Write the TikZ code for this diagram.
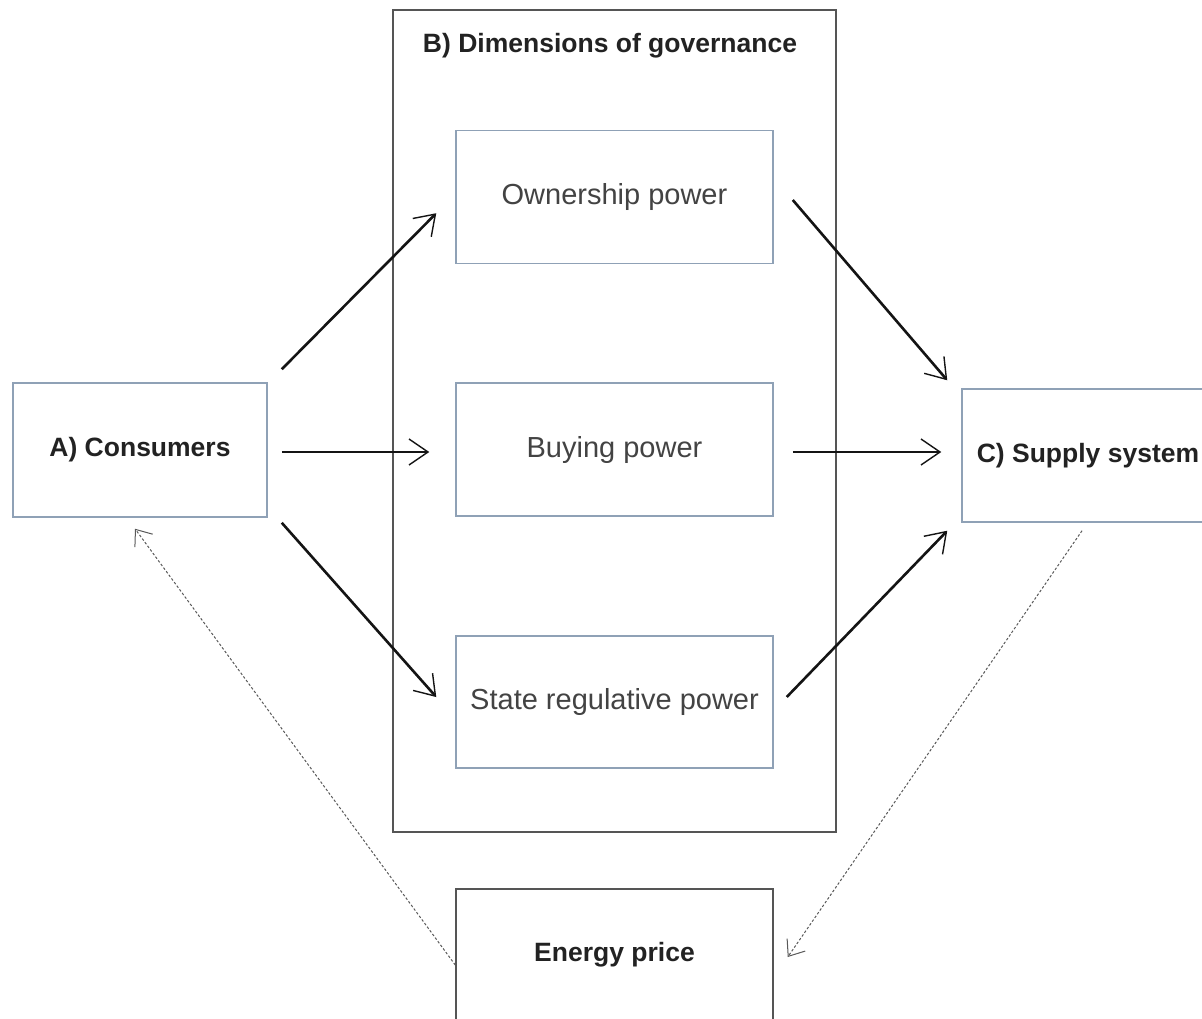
\documentclass[tikz,border=0pt]{standalone}
\usepackage{fontspec}
\setmainfont{Liberation Sans}
\usetikzlibrary{arrows.meta}
\definecolor{boxblue}{HTML}{8FA1B6}
\definecolor{boxdark}{HTML}{555555}
\definecolor{txt}{HTML}{222222}
\tikzset{
  bluebox/.style={draw=boxblue, line width=1.5pt, inner sep=0pt, text=txt},
  powerbox/.style={bluebox, minimum width=317pt, minimum height=133pt, font=\fontsize{29}{32}\selectfont, text=txt!85},
  boldlbl/.style={font=\fontsize{26.5}{30}\selectfont\bfseries, text=txt},
  arr/.style={line width=2.6pt, draw=black!92, -{Straight Barb[length=19pt,width=26pt,line width=1.4pt]}},
  dotarr/.style={line width=1pt, draw=black!65, dash pattern=on 2.5pt off 2pt, -{Straight Barb[length=14pt,width=22pt,line width=1pt]}}
}
\begin{document}
\begin{tikzpicture}[x=1pt,y=-1pt]
\useasboundingbox (0,0) rectangle (1202,1019);
\fill[white] (0,0) rectangle (1202,1019);
\begin{scope}
\clip (0,0) rectangle (1202,1019);
% big frame
\node[draw=boxdark, line width=1.5pt, minimum width=443pt, minimum height=822pt, inner sep=0pt] (frame) at (614.5,421) {};
\node[boldlbl] (title) at (610,46) {B) Dimensions of governance};
% nodes
\node[bluebox, boldlbl, minimum width=254pt, minimum height=134pt] (A) at (140,450) {A) Consumers};
\node[powerbox] (own) at (614.5,197) {\raisebox{-3pt}{Ownership power}};
\node[powerbox] (buy) at (614.5,449.5) {\raisebox{-3pt}{Buying power}};
\node[powerbox, minimum height=132pt] (state) at (614.5,702) {\raisebox{-3pt}{State regulative power}};
\node[bluebox, boldlbl, minimum width=252pt, minimum height=133pt] (C) at (1088,455.5) {C) Supply system};
\node[draw=boxdark, line width=1.5pt, boldlbl, minimum width=317pt, minimum height=132pt, inner sep=0pt] (E) at (614.5,955) {\raisebox{-2pt}{Energy price}};
% connectors
\draw[arr] ([shift={(14,-13)}]A.north east) -- ([shift={(-19,-51)}]own.south west);
\draw[arr] ([shift={(14,2)}]A.east) -- ([shift={(-26,2.5)}]buy.west);
\draw[arr] ([shift={(14,5)}]A.south east) -- ([shift={(-19,-5)}]state.west);
\draw[arr] ([shift={(19,3)}]own.east) -- ([shift={(-14,-8)}]C.north west);
\draw[arr] ([shift={(19,2.5)}]buy.east) -- ([shift={(-20,-3.5)}]C.west);
\draw[arr] ([shift={(13,-5)}]state.east) -- ([shift={(-14,8)}]C.south west);
\draw[dotarr] ([shift={(0,10)}]E.west) -- ([shift={(-5,11)}]A.south);
\draw[dotarr] ([shift={(-6,8)}]C.south) -- ([shift={(14,2)}]E.east);
\end{scope}
\end{tikzpicture}
\end{document}
